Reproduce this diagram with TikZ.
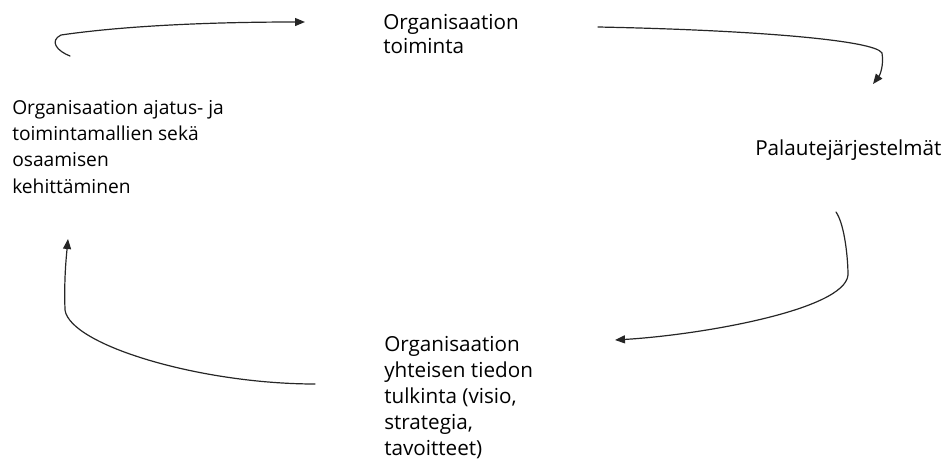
\documentclass[tikz,border=0pt]{standalone}
\usepackage{fontspec}
\setmainfont{Open Sans}
\usetikzlibrary{arrows.meta}
\begin{document}
\begin{tikzpicture}[x=0.75pt,y=-0.75pt,
  label/.style={anchor=base west,inner sep=0pt,align=left,
    font=\fontsize{15.5pt}{19.5pt}\selectfont},
  flow/.style={line width=0.9pt,draw=black!85,line cap=round,
    -{Triangle[length=7.5pt,width=6pt]}}]
\useasboundingbox (0,0) rectangle (947,468);

% stage labels (placed by the baseline of their last line)
\node[label] (act) at (383,53) {Organisaation\\[-1.9pt]toiminta};
\node[label] (fb) at (755,155) {Palautejärjestelmät};
\node[label] (interp) at (384,455) {Organisaation\\yhteisen tiedon\\tulkinta (visio,\\strategia,\\tavoitteet)};
\node[label,font=\fontsize{14.4pt}{19.7pt}\selectfont] (dev) at (12,193) {Organisaation ajatus- ja\\toimintamallien sekä\\osaamisen\\kehittäminen};

% connector end points
\coordinate (s1) at (70,56);   \coordinate (e1) at (305,22);
\coordinate (s2) at (598,27);  \coordinate (e2) at (873,84);
\coordinate (s3) at (836,212); \coordinate (e3) at (615,340);
\coordinate (s4) at (315,384); \coordinate (e4) at (68,239);

% cycle arrows
\draw[flow] (s1) .. controls (57,51) and (49,41) .. (61,35)
  .. controls (130,25) and (220,22) .. (e1);
\draw[flow] (s2) .. controls (750,30) and (875,40) .. (882,53)
  .. controls (884,65) and (880,75) .. (e2);
\draw[flow] (s3) .. controls (845,225) and (848,260) .. (848,275)
  .. controls (845,310) and (700,335) .. (e3);
\draw[flow] (s4) .. controls (200,384) and (70,345) .. (65,310)
  .. controls (64,280) and (66,260) .. (e4);
\end{tikzpicture}
\end{document}
